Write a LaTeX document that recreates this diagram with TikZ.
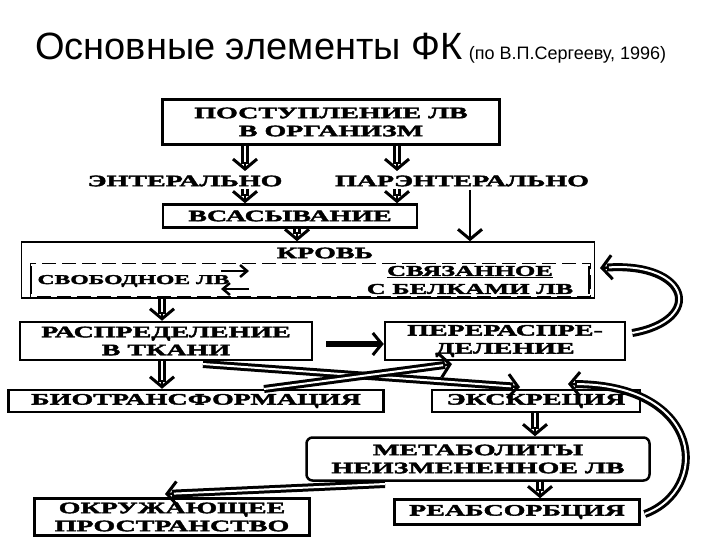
\documentclass[tikz,border=0pt]{standalone}
\usepackage{fontspec}
\setmainfont{Liberation Serif}
\newfontfamily\bx[FakeStretch=1.75,FakeBold=2.5]{Liberation Serif}
\newfontfamily\ttl{Liberation Sans}
\usetikzlibrary{arrows.meta,calc}
\begin{document}
\begin{tikzpicture}[x=1pt,y=-1pt,
  box/.style={draw,line width=2.5pt,inner sep=2pt,font=\bx\bfseries\fontsize{16}{18}\selectfont,align=center},
  dar/.style={line width=8pt,shorten >=7pt,
    postaction={draw,line width=2.5pt,shorten >=0pt,-{Straight Barb[length=10pt,width=24pt,line width=3pt]}},
    postaction={draw=white,line width=2pt,shorten >=9pt}},
  sar/.style={line width=2.5pt,-{Straight Barb[length=10pt,width=24pt,line width=3pt]}},
  lbl/.style={font=\bx\bfseries\fontsize{16}{18}\selectfont}]
\useasboundingbox (0,0) rectangle (720,540);
\node[anchor=base west,inner sep=0,font=\ttl\fontsize{38}{42}\selectfont] (t1) at (35,60) {Основные элементы ФК};
\node[anchor=base west,inner sep=0,font=\ttl\fontsize{18}{20}\selectfont] (t2) at ([xshift=6pt]t1.base east) {(по В.П.Сергееву, 1996)};

\node[box,minimum width=337,minimum height=45] (b1) at (331,122) {ПОСТУПЛЕНИЕ ЛВ\\В ОРГАНИЗМ};
\node[lbl] (ent) at (185,181) {ЭНТЕРАЛЬНО};
\node[lbl] (par) at (462,181) {ПАРЭНТЕРАЛЬНО};
\node[box,minimum width=254,minimum height=23] (vs) at (290,216) {ВСАСЫВАНИЕ};
\node[draw,line width=1.5pt,minimum width=573,minimum height=56] (kr) at (308,270) {};
\node[lbl] (krt) at (325,253) {КРОВЬ};
\draw[line width=1pt,dash pattern=on 14pt off 6pt] (30,263) rectangle (590,296);
\draw[line width=2.5pt] (31,266)--(31,294) (589,266)--(589,294);
\node[lbl,anchor=west,font=\bx\bfseries\fontsize{13.5}{16}\selectfont] (sv) at (34,281) {СВОБОДНОЕ ЛВ};
\node[lbl,align=center,font=\bx\bfseries\fontsize{15}{18}\selectfont] (sb) at (470,280) {\underline{СВЯЗАННОЕ}\\С БЕЛКАМИ ЛВ};
\coordinate (e1) at (221,271); \coordinate (e2) at (249,271);
\coordinate (e3) at (221,289); \coordinate (e4) at (249,289);
\draw[line width=2.5pt,-{Straight Barb[length=7pt,width=12pt]}] (e1)--(e2);
\draw[line width=2.5pt,-{Straight Barb[length=7pt,width=12pt]}] (e4)--(e3);

\node[box,minimum width=292,minimum height=38] (rt) at (166,341) {РАСПРЕДЕЛЕНИЕ\\В ТКАНИ};
\node[box,minimum width=240,minimum height=38] (pr) at (505,341) {ПЕРЕРАСПРЕ-\\ДЕЛЕНИЕ};
\node[box,minimum width=375,minimum height=22] (bt) at (196,401) {БИОТРАНСФОРМАЦИЯ};
\node[box,minimum width=208,minimum height=22] (ek) at (536,401) {ЭКСКРЕЦИЯ};
\node[box,rounded corners=6pt,minimum width=343,minimum height=43] (mt) at (478,459) {МЕТАБОЛИТЫ\\НЕИЗМЕНЕННОЕ ЛВ};
\node[box,minimum width=275,minimum height=37] (ok) at (172,517) {ОКРУЖАЮЩЕЕ\\ПРОСТРАНСТВО};
\node[box,minimum width=245,minimum height=25] (rb) at (517,512) {РЕАБСОРБЦИЯ};

\draw[dar] (b1.south -| 245,0) -- (245,171);
\draw[dar] (b1.south -| 397,0) -- (397,171);
\draw[dar] (245,189) -- (vs.north -| 245,0);
\draw[dar] (397,189) -- (vs.north -| 397,0);
\draw[sar] (470,190) -- (kr.north -| 470,0);
\draw[dar] (vs.south -| 297,0) -- (kr.north -| 297,0);
\draw[dar] (kr.south -| 162,0) -- (rt.north -| 162,0);
\draw[line width=6pt,-{Straight Barb[length=9pt,width=22pt,line width=3pt]}] (326,344) -- (pr.west |- 0,344);
\draw[dar] (rt.south -| 162,0) -- (bt.north -| 162,0);
\draw[dar] (203,364) -- (520,387);
\draw[dar] (264,389) -- (452,364);
\draw[dar] (ek.south -| 535,0) -- (mt.north -| 535,0);
\draw[dar] (mt.south -| 540,0) -- (rb.north -| 540,0);
\draw[dar] (385,484) -- (165,494);
\draw[dar] (pr.east) ++(6,-8) .. controls (705,320) and (690,262) .. (600,268);
\draw[dar] (rb.east) ++(4,2) .. controls (710,490) and (705,385) .. (568,384);
\end{tikzpicture}
\end{document}
